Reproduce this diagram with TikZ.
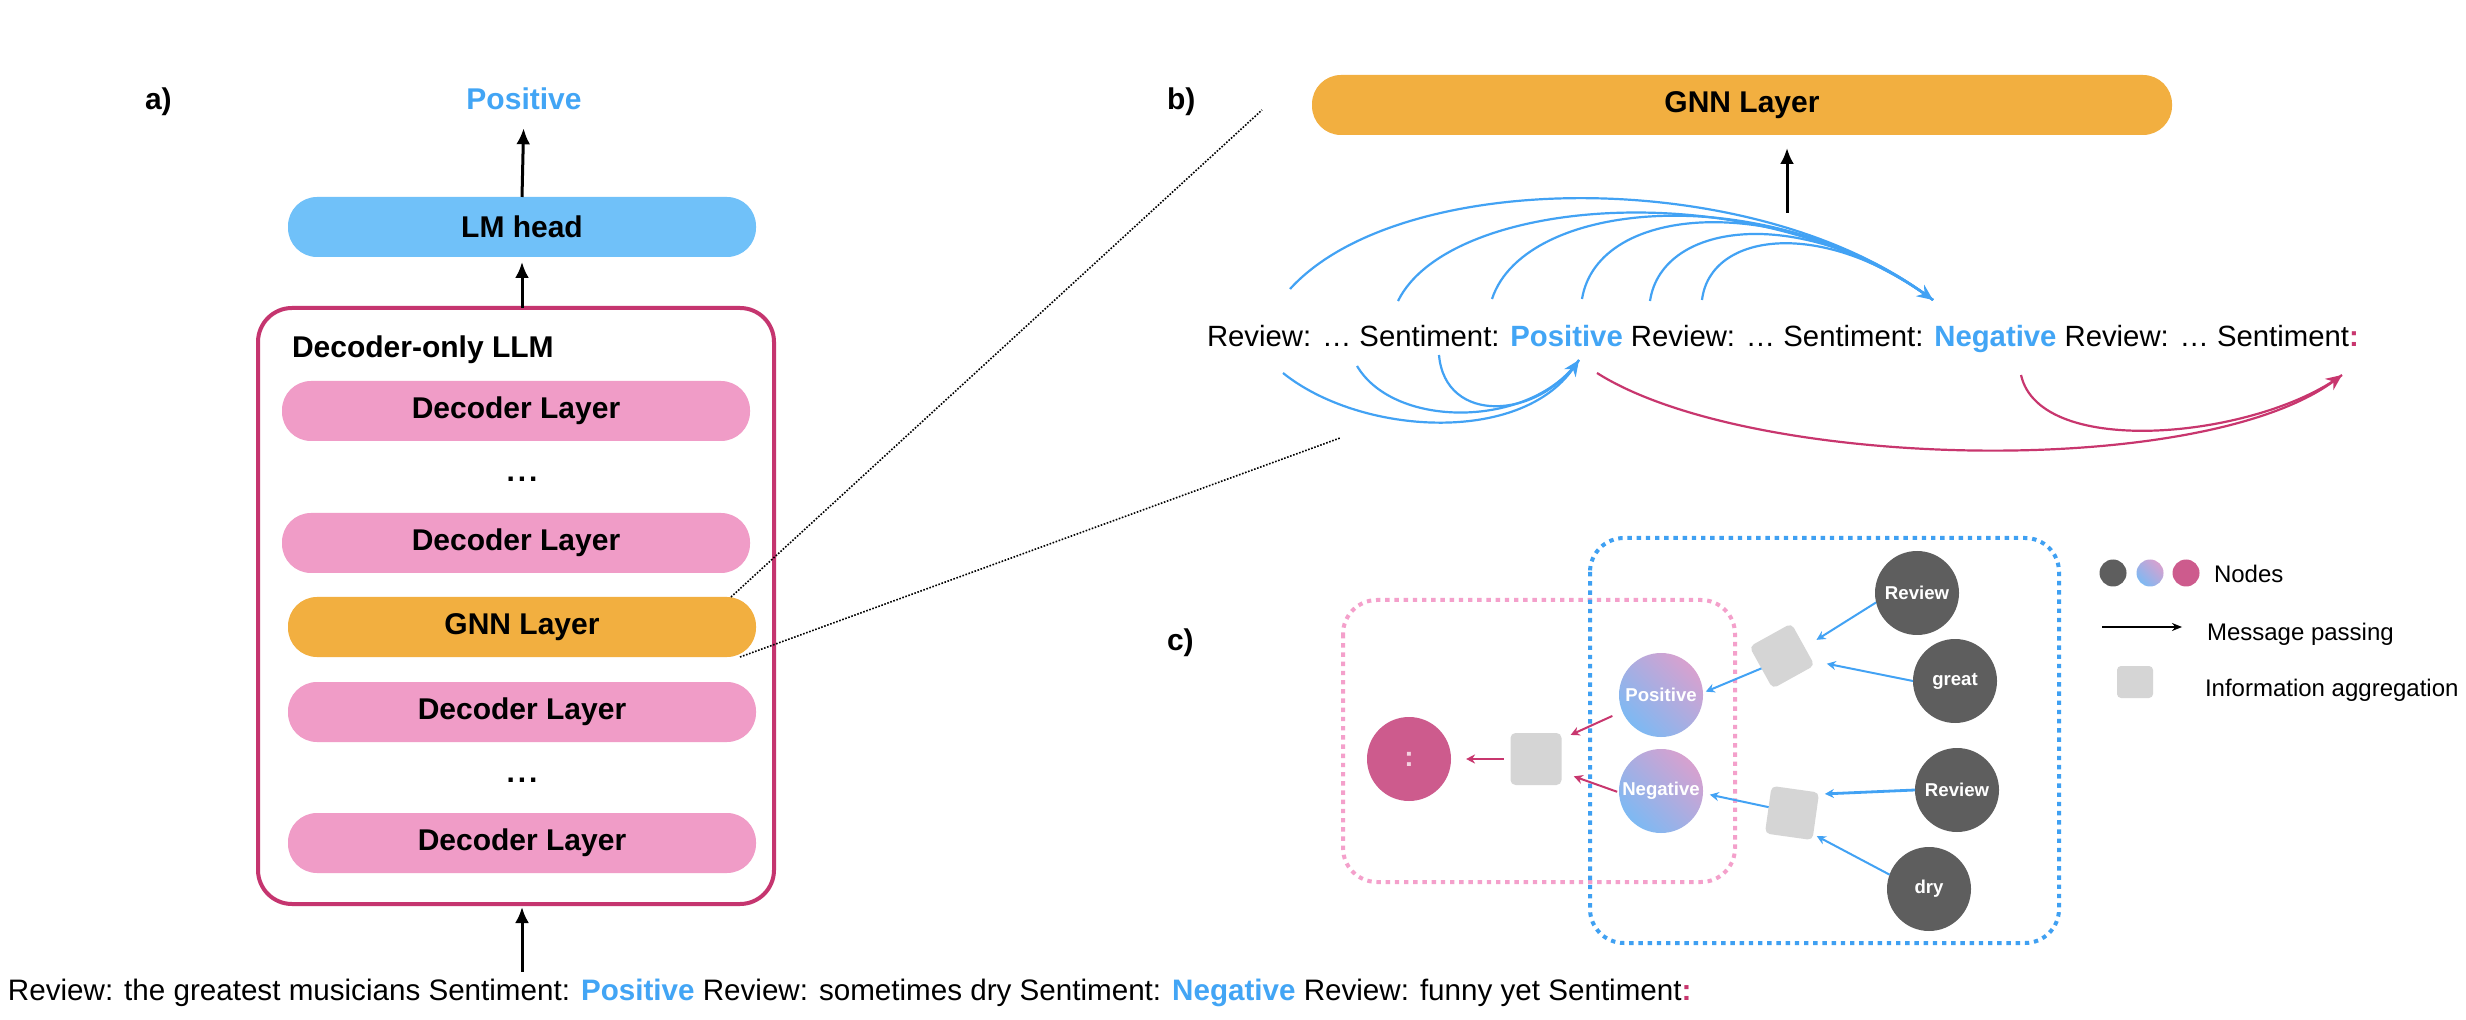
\documentclass[tikz,border=0pt]{standalone}
\usepackage{fontspec}
\setmainfont{Liberation Sans}
\usetikzlibrary{arrows.meta,calc}
\definecolor{lmblue}{HTML}{70C1F9}
\definecolor{decpink}{HTML}{F09CC7}
\definecolor{gnnorange}{HTML}{F2AF40}
\definecolor{llmmag}{HTML}{C5356F}
\definecolor{tblue}{HTML}{42A5F5}
\definecolor{arcblue}{HTML}{42A2F4}
\definecolor{arcmag}{HTML}{C8366E}
\definecolor{dgray}{HTML}{5E5E5E}
\definecolor{colnode}{HTML}{CD5B8D}
\definecolor{aggray}{HTML}{D5D5D5}
\definecolor{pinkdot}{HTML}{F4A0CB}
\definecolor{bluedot}{HTML}{3FA0F2}
\definecolor{gblue}{HTML}{7DB9F3}
\definecolor{gpink}{HTML}{D7A1CF}
\definecolor{colontext}{HTML}{F4D3E1}
\begin{document}
\begin{tikzpicture}[x=0.5pt,y=-0.5pt,
  every node/.style={inner sep=0pt, outer sep=0pt},
  pill/.style={rounded corners=14.5pt, minimum width=234pt, minimum height=30pt, font=\bfseries\fontsize{15pt}{18pt}\selectfont},
  declayer/.style={pill, fill=decpink},
  gnnlayer/.style={pill, fill=gnnorange},
  lbl/.style={font=\bfseries\fontsize{15pt}{18pt}\selectfont, anchor=base west},
  blk/.style={-{Latex[length=8pt,width=7pt]}, line width=1.5pt},
  zoomline/.style={line width=0.8pt, dash pattern=on 0.8pt off 0.8pt},
  barc/.style={draw=arcblue, line width=1.1pt},
  marc/.style={draw=arcmag, line width=1.1pt},
  bighead/.style={-{Stealth[length=8pt,width=7pt]}},
  tok/.style={circle, minimum size=42pt, text=white, font=\bfseries\fontsize{9.3pt}{11pt}\selectfont},
  graytok/.style={tok, fill=dgray},
  gradtok/.style={tok, top color=gpink, bottom color=gblue, shading angle=-45},
  agg/.style={fill=aggray, rounded corners=2.5pt, minimum size=24pt},
  barrow/.style={draw=arcblue, line width=1pt, -{Stealth[length=4.5pt,width=4.5pt]}},
  marrow/.style={draw=arcmag, line width=1pt, -{Stealth[length=4.5pt,width=4.5pt]}},
  dotbox/.style={line width=2pt, dash pattern=on 2.2pt off 2.4pt, rounded corners=17pt},
  legtxt/.style={anchor=base west, font=\fontsize{12pt}{14pt}\selectfont}
]
\useasboundingbox (0,0) rectangle (2466,1020);
\fill[white] (0,0) rectangle (2466,1020);

% ---------------- panel a ----------------
\node[lbl] (alab) at (145,110) {a)};
\node[anchor=base, font=\bfseries\fontsize{15pt}{18pt}\selectfont, text=tblue] (toppos) at (524,110) {Positive};
\node[pill, fill=lmblue] (lmhead) at (522,227) {LM head};
\node[draw=llmmag, line width=2pt, rounded corners=17pt, minimum width=258pt, minimum height=298pt] (llm) at (516,606) {};
\node[lbl] (llmtitle) at (292,358) {Decoder-only LLM};
\node[declayer] (dec1) at (516,411) {Decoder Layer};
\node[anchor=base, font=\bfseries\fontsize{15pt}{18pt}\selectfont] (dots1) at (522,482) {.\hspace{1.5pt}.\hspace{1.5pt}.};
\node[declayer] (dec2) at (516,543) {Decoder Layer};
\node[gnnlayer] (gnnA) at (522,627) {GNN Layer};
\node[declayer] (dec3) at (522,712) {Decoder Layer};
\node[anchor=base, font=\bfseries\fontsize{15pt}{18pt}\selectfont] (dots2) at (522,782) {.\hspace{1.5pt}.\hspace{1.5pt}.};
\node[declayer] (dec4) at (522,843) {Decoder Layer};

\node[anchor=base west, font=\fontsize{14.8pt}{18pt}\selectfont] (btext) at (8,1000)
  {Review: the greatest musicians Sentiment: \textcolor{tblue}{\textbf{Positive}} Review: sometimes dry Sentiment: \textcolor{tblue}{\textbf{Negative}} Review: funny yet Sentiment\textcolor{arcmag}{\textbf{:}}};

\draw[blk, shorten >=9pt] (lmhead.north) -- (toppos.south);
\draw[blk, shorten >=2.5pt] (lmhead.south |- llm.north) -- (lmhead.south);
\draw[blk, shorten <=3.5pt, shorten >=1.5pt] (lmhead.south |- btext.north) -- (lmhead.south |- llm.south);

% zoom lines
\coordinate (zA) at (1262,110);
\coordinate (zB) at (1340,438);
\draw[zoomline] ($(gnnA.north east)+(-25,0)$) -- (zA);
\draw[zoomline] ($(gnnA.south east)+(-16,0)$) -- (zB);

% ---------------- panel b ----------------
\node[lbl] (blab) at (1167,110) {b)};
\node[gnnlayer, minimum width=430pt] (gnnB) at (1742,105) {GNN Layer};
\coordinate (bup) at (1787,213);
\draw[blk, shorten >=6.5pt] (bup) -- (bup |- gnnB.south);
\node[anchor=base west, font=\fontsize{14.65pt}{18pt}\selectfont] (btxt) at (1207,347)
  {Review: … Sentiment: \textcolor{tblue}{\textbf{Positive}} Review: … Sentiment: \textcolor{tblue}{\textbf{Negative}} Review: … Sentiment\textcolor{arcmag}{\textbf{:}}};

\coordinate (ta1) at (1290,289);
\coordinate (ta2) at (1398,301);
\coordinate (ta3) at (1492,299);
\coordinate (ta4) at (1582,299);
\coordinate (ta5) at (1650,301);
\coordinate (ta6) at (1702,300);
\coordinate (tT) at (1933,300);
\draw[barc] (ta2) .. controls (1450,195) and (1759,172) .. (tT);
\draw[barc] (ta3) .. controls (1525,198) and (1769,178) .. (tT);
\draw[barc] (ta4) .. controls (1598,202) and (1787,191) .. (tT);
\draw[barc] (ta5) .. controls (1662,220) and (1805,204) .. (tT);
\draw[barc] (ta6) .. controls (1710,232) and (1823,217) .. (tT);
\draw[barc, bighead] (ta1) .. controls (1400,168) and (1750,166) .. (tT);

\coordinate (bb1) at (1283,373);
\coordinate (bb2) at (1357,366);
\coordinate (bb3) at (1439,355);
\coordinate (bB) at (1579,360);
\draw[barc] (bb2) .. controls (1395,430) and (1532,428) .. (bB);
\draw[barc] (bb3) .. controls (1445,425) and (1538,420) .. (bB);
\draw[barc, bighead] (bb1) .. controls (1360,435) and (1520,445) .. (bB);

\coordinate (mm1) at (1597,373);
\coordinate (mm2) at (2021,375);
\coordinate (mM) at (2342,375);
\draw[marc] (mm2) .. controls (2040,460) and (2257,438) .. (mM);
\draw[marc, bighead] (mm1) .. controls (1750,470) and (2200,480) .. (mM);

% ---------------- panel c ----------------
\node[lbl] (clab) at (1167,650) {c)};
\draw[dotbox, draw=pinkdot] (1343,600) rectangle (1735,882);
\draw[dotbox, draw=bluedot] (1590,538) rectangle (2059,943);

\node[graytok] (rev1) at (1917,593) {Review};
\node[graytok] (great) at (1955,681) {great};
\node[graytok] (rev2) at (1957,790) {Review};
\node[graytok] (dry) at (1929,889) {dry};
\node[gradtok] (pos) at (1661,695) {Positive};
\node[gradtok] (neg) at (1661,791) {Negative};
\node[tok, fill=colnode, text=colontext, font=\bfseries\fontsize{14pt}{16pt}\selectfont] (colon) at (1409,759) {:};
\node[agg, rotate=29] (sq1) at (1782,656) {};
\node[agg, rotate=-8] (sq2) at (1792,813) {};
\node[agg, minimum width=25.5pt, minimum height=26pt] (sq3) at (1536,759) {};

\draw[barrow, shorten >=7pt] (rev1.193) -- (sq1.-8);
\draw[barrow, shorten >=7.5pt] (great.180) -- (sq1.-38);
\draw[barrow, shorten >=1.5pt] (sq1.182) -- (pos.3);
\draw[barrow, line width=1.4pt, shorten >=3pt] (rev2.180) -- (sq2.43);
\draw[barrow, shorten >=2pt] (dry.160) -- (sq2.-37);
\draw[barrow, shorten >=3.5pt] (sq2.174) -- (neg.-3);
\draw[marrow, shorten <=5.5pt, shorten >=5pt] (pos.203) -- (sq3.38);
\draw[marrow, shorten <=1pt, shorten >=6.5pt] (neg.182) -- (sq3.-27);
\draw[marrow, shorten <=3.5pt, shorten >=7.5pt] (sq3.west) -- (colon.east);

% legend
\node[circle, minimum size=13.5pt, fill=dgray] (lg1) at (2113,573) {};
\node[circle, minimum size=13.5pt, top color=gpink, bottom color=gblue, shading angle=-45] (lg2) at (2150,573) {};
\node[circle, minimum size=13.5pt, fill=colnode] (lg3) at (2186,573) {};
\node[legtxt] (lgnodes) at (2214,582) {Nodes};
\coordinate (la1) at (2102,627);
\coordinate (la2) at (2182,627);
\draw[-{Stealth[length=5pt,width=4pt]}, line width=1pt] (la1) -- (la2);
\node[legtxt] (lgmsg) at (2207,640) {Message passing};
\node[fill=aggray, rounded corners=2pt, minimum width=18pt, minimum height=16pt] (lgsq) at (2135,682) {};
\node[legtxt] (lgagg) at (2205,697) {Information aggregation};
\end{tikzpicture}
\end{document}
